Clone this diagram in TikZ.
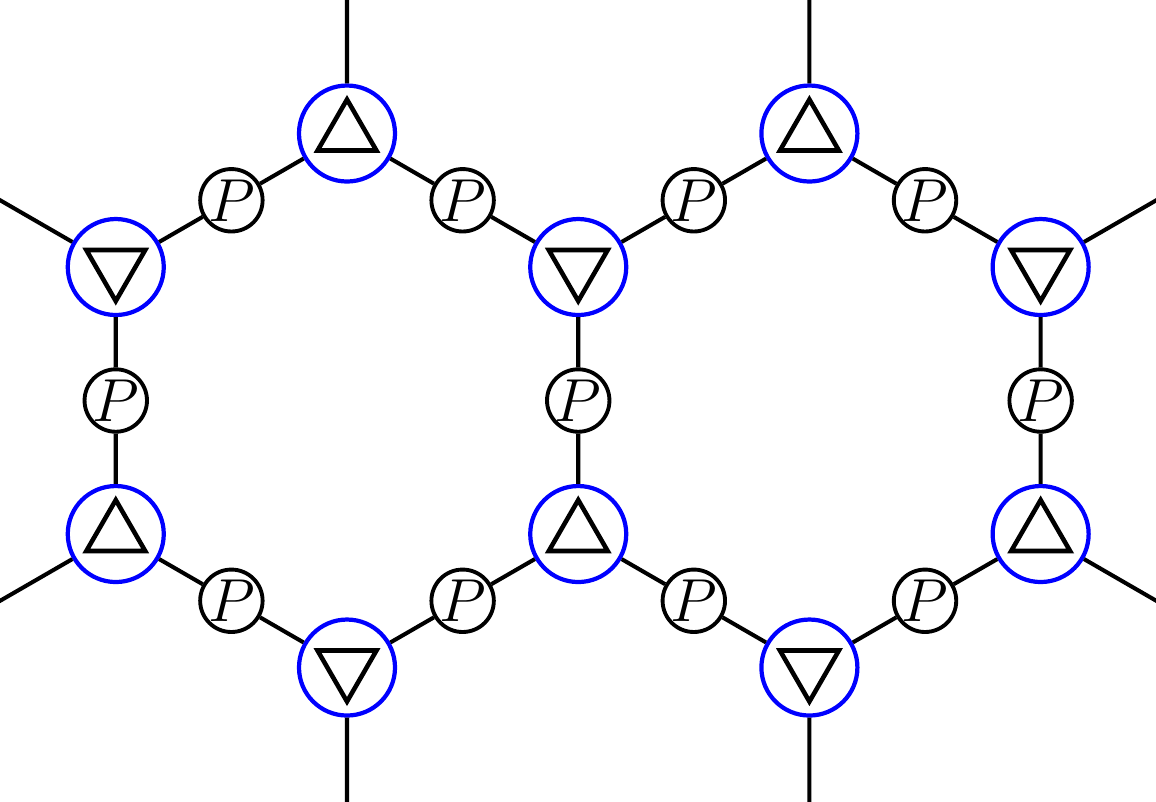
\documentclass[tikz,border=0pt]{standalone}
\usetikzlibrary{shapes.geometric,calc}
\tikzset{
 vert/.style={draw=blue,circle,line width=1.2pt,minimum size=0.96cm,inner sep=0pt},
 tri/.style={draw=black,regular polygon,regular polygon sides=3,minimum size=0.68cm,
             inner sep=0pt,line width=1.3pt},
 vup/.style={vert,path picture={\node[tri] at (path picture bounding box.center) {};}},
 vdown/.style={vert,path picture={\node[tri,shape border rotate=180]
             at (path picture bounding box.center) {};}},
 pbox/.style={draw,circle,line width=1.1pt,minimum size=0.62cm,inner sep=0pt,font=\LARGE},
 link/.style={line width=1.15pt}
}

\begin{document}
\begin{tikzpicture}
\useasboundingbox (-3.47,-4.005) rectangle (8.09,4.005);
\clip (-3.47,-4.005) rectangle (8.09,4.005);
\coordinate (cb) at (4.624,0);
% left hexagon
\node[vup] (a1) at (90:2.67) {};
\node[vdown] (a2) at (150:2.67) {};
\node[vup] (a3) at (210:2.67) {};
\node[vdown] (a4) at (270:2.67) {};
\node[vup] (a5) at (330:2.67) {};
\node[vdown] (a6) at (30:2.67) {};
% right hexagon
\node[vup] (b1) at ($(cb)+(90:2.67)$) {};
\node[vdown] (b2) at ($(cb)+(30:2.67)$) {};
\node[vup] (b3) at ($(cb)+(330:2.67)$) {};
\node[vdown] (b4) at ($(cb)+(270:2.67)$) {};
% P nodes
\node[pbox] (p12) at ($(a1)!0.5!(a2)$) {$P$};
\node[pbox] (p23) at ($(a2)!0.5!(a3)$) {$P$};
\node[pbox] (p34) at ($(a3)!0.5!(a4)$) {$P$};
\node[pbox] (p45) at ($(a4)!0.5!(a5)$) {$P$};
\node[pbox] (p56) at ($(a5)!0.5!(a6)$) {$P$};
\node[pbox] (p61) at ($(a6)!0.5!(a1)$) {$P$};
\node[pbox] (q1) at ($(a6)!0.5!(b1)$) {$P$};
\node[pbox] (q2) at ($(b1)!0.5!(b2)$) {$P$};
\node[pbox] (q3) at ($(b2)!0.5!(b3)$) {$P$};
\node[pbox] (q4) at ($(b3)!0.5!(b4)$) {$P$};
\node[pbox] (q5) at ($(b4)!0.5!(a5)$) {$P$};
% free ends
\coordinate (e1) at (90:4.1);
\coordinate (e2) at (150:4.1);
\coordinate (e3) at (210:4.1);
\coordinate (e4) at (270:4.1);
\coordinate (f1) at ($(cb)+(90:4.1)$);
\coordinate (f2) at ($(cb)+(30:4.1)$);
\coordinate (f3) at ($(cb)+(330:4.1)$);
\coordinate (f4) at ($(cb)+(270:4.1)$);
\draw[link] (a1)--(p12)--(a2)--(p23)--(a3)--(p34)--(a4)--(p45)--(a5)--(p56)--(a6)--(p61)--(a1);
\draw[link] (a6)--(q1)--(b1)--(q2)--(b2)--(q3)--(b3)--(q4)--(b4)--(q5)--(a5);
\draw[link] (a1)--(e1) (a2)--(e2) (a3)--(e3) (a4)--(e4);
\draw[link] (b1)--(f1) (b2)--(f2) (b3)--(f3) (b4)--(f4);
\end{tikzpicture}
\end{document}
